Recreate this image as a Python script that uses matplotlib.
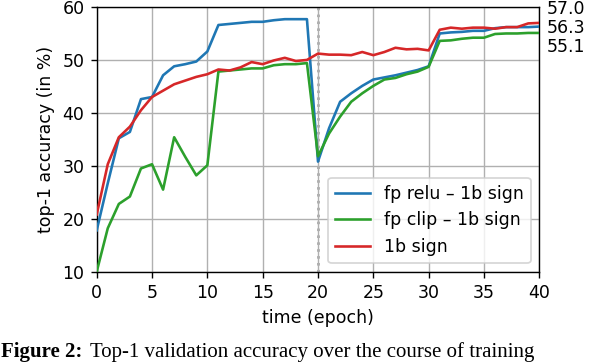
import matplotlib
matplotlib.use("Agg")
import matplotlib.pyplot as plt

epochs = list(range(0, 41))

relu_1b = [17.8, 26.7, 35.2, 36.4, 42.6, 43.0, 47.1, 48.8, 49.2, 49.7, 51.6,
           56.6, 56.8, 57.0, 57.2, 57.2, 57.5, 57.7, 57.7, 57.7,
           30.8, 37.1, 42.1, 43.7, 45.1, 46.3, 46.7, 47.1, 47.6, 48.1, 48.8,
           55.0, 55.2, 55.3, 55.5, 55.5, 56.0, 56.2, 56.2, 56.2, 56.3]

clip_1b = [10.0, 18.2, 22.8, 24.2, 29.5, 30.3, 25.5, 35.4, 31.7, 28.2, 30.1,
           47.8, 48.0, 48.2, 48.4, 48.4, 49.0, 49.2, 49.2, 49.4,
           31.8, 36.1, 39.3, 42.1, 43.7, 45.1, 46.3, 46.6, 47.3, 47.8, 48.7,
           53.6, 53.7, 54.0, 54.2, 54.2, 54.9, 55.0, 55.0, 55.1, 55.1]

sign_1b = [20.8, 30.3, 35.4, 37.4, 40.5, 43.0, 44.2, 45.4, 46.1, 46.8, 47.3,
           48.2, 48.0, 48.6, 49.6, 49.2, 49.9, 50.4, 49.8, 50.0,
           51.2, 51.0, 51.0, 50.9, 51.5, 50.9, 51.5, 52.3, 52.0, 52.1, 51.8,
           55.7, 56.1, 55.9, 56.1, 56.1, 55.9, 56.2, 56.2, 56.9, 57.0]

series_labels = ["fp relu \u2013 1b sign", "fp clip \u2013 1b sign", "1b sign"]
series_colors = ["#1f77b4", "#2ca02c", "#d62728"]

final_labels = ["57.0", "56.3", "55.1"]
final_label_y = [59.57, 56.03, 52.44]

x_ticks = [0, 5, 10, 15, 20, 25, 30, 35, 40]
y_ticks = [10, 20, 30, 40, 50, 60]
switch_epoch = 20

caption_head = "Figure 2:"
caption_body = "Top-1 validation accuracy over the course of training"

DPI = 125
fig = plt.figure(figsize=(592 / DPI, 362 / DPI), dpi=DPI)
ax = fig.add_axes([96.7 / 592, 1 - 271.7 / 362, (539.3 - 96.7) / 592, (271.7 - 7) / 362])

ax.grid(True, zorder=0)
ax.axvline(switch_epoch, color="#a0a0a0", linestyle=":", linewidth=1.5, zorder=1)

for ys, lab, col in zip([relu_1b, clip_1b, sign_1b], series_labels, series_colors):
    ax.plot(epochs, ys, color=col, label=lab, zorder=3)

ax.set_xlim(0, 40)
ax.set_ylim(10, 60)
ax.set_xticks(x_ticks)
ax.set_yticks(y_ticks)

ax.set_xlabel("time (epoch)")
ax.set_ylabel("top-1 accuracy (in %)")

ax.legend(loc="lower right")

for txt, yv in zip(final_labels, final_label_y):
    ax.text(1.0165, yv, txt, transform=ax.get_yaxis_transform(),
            va="center", ha="left")

cap_fs = 12
head = fig.text(1 / 592, 0.0, caption_head, fontsize=cap_fs, family="Liberation Serif",
                fontweight="bold", va="bottom", ha="left")
fig.canvas.draw()
r = fig.canvas.get_renderer()
bb = head.get_window_extent(r)
x_body = (bb.x1 + 0.35 * cap_fs * DPI / 72) / fig.bbox.width
fig.text(x_body, 0.0, caption_body, fontsize=cap_fs, family="Liberation Serif",
         va="bottom", ha="left")

fig.savefig("out.png", dpi=DPI)
